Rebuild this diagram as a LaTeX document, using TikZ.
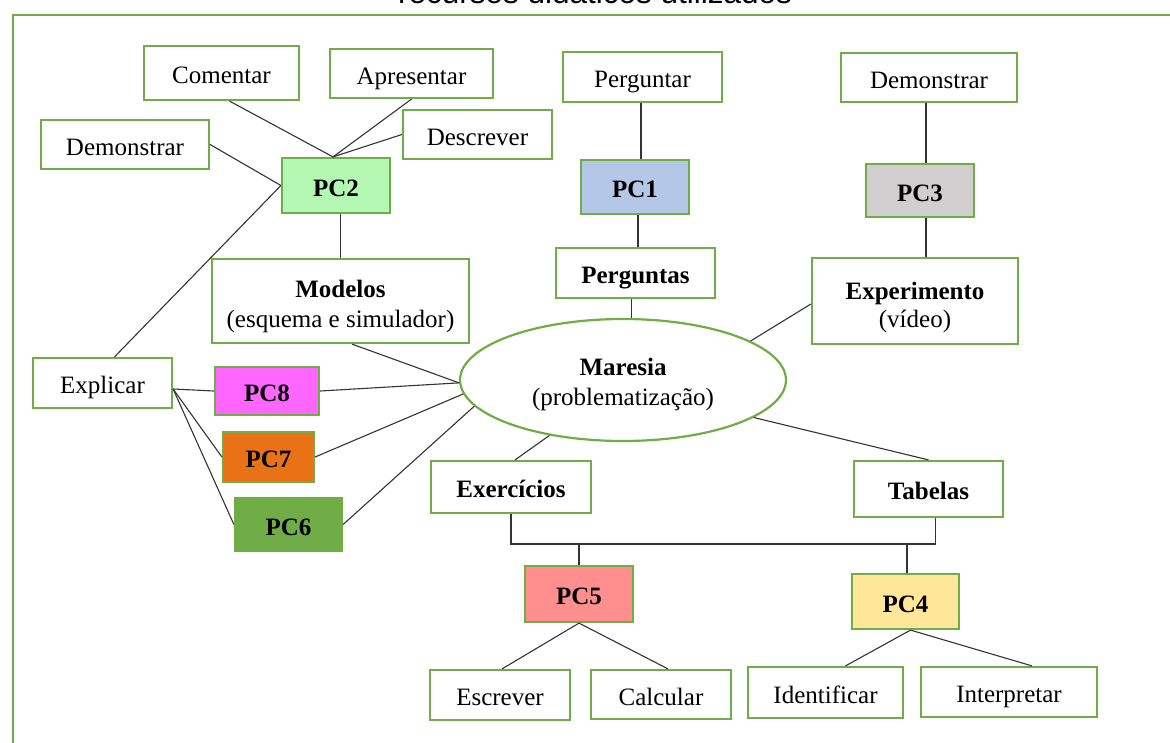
\documentclass[tikz,border=0pt]{standalone}
\usepackage{fontspec}
\setmainfont{Liberation Serif}
\newfontfamily\titlefont{Liberation Sans}
\usetikzlibrary{shapes.geometric,calc}
\definecolor{gborder}{HTML}{70AD47}
\definecolor{cpctwo}{HTML}{B3F7B3}
\definecolor{cpcone}{HTML}{B4C7E7}
\definecolor{cpcthree}{HTML}{D0CECE}
\definecolor{cpcfour}{HTML}{FFE699}
\definecolor{cpcfive}{HTML}{FF8F8F}
\definecolor{cpcsix}{HTML}{70AD47}
\definecolor{cpcseven}{HTML}{E97116}
\definecolor{cpceight}{HTML}{FF66FF}
\definecolor{lineclr}{HTML}{333333}
\begin{document}
\begin{tikzpicture}[x=1pt,y=-1pt,
  mbox/.style={draw=gborder, line width=2.2pt, fill=white, inner sep=0pt, align=center,
    font=\fontsize{25}{30}\selectfont},
  box/.style={mbox, text height=22pt, text depth=1pt},
  bbox/.style={box, font=\fontsize{25}{30}\selectfont\bfseries},
  conn/.style={draw=lineclr, line width=1.1pt}]
\useasboundingbox (0,0) rectangle (1170,742);
% outer frame and clipped title
\draw[draw=gborder, line width=2.5pt] (13,760) -- (13,15) -- (1190,15);
\node[font=\titlefont\fontsize{31.5}{36}\selectfont, anchor=base, inner sep=0pt] (title) at (595,3) {recursos didáticos utilizados};
\coordinate (brk) at (0,544);
% nodes
\node[box, minimum width=155pt, minimum height=54pt] (com) at (221.5,73) {Comentar};
\node[box, minimum width=163pt, minimum height=49pt] (apr) at (411.5,73.5) {Apresentar};
\node[box, minimum width=149pt, minimum height=49pt] (des) at (477.5,134.5) {Descrever};
\node[box, minimum width=168pt, minimum height=49pt] (demL) at (125,144.5) {Demonstrar};
\node[bbox, fill=cpctwo, minimum width=108pt, minimum height=55pt] (pc2) at (336,185.5) {PC2};
\node[mbox, minimum width=257pt, minimum height=84pt] (mod) at (340.5,301) {\rule{0pt}{29pt}\textbf{Modelos}\\(esquema e simulador)};
\node[box, minimum width=139pt, minimum height=50pt] (expl) at (102.5,383) {Explicar};
\node[bbox, fill=cpceight, minimum width=104pt, minimum height=48pt] (pc8) at (267,391) {PC8};
\node[bbox, fill=cpcseven, minimum width=91pt, minimum height=50pt] (pc7) at (268.5,457) {PC7};
\node[bbox, fill=cpcsix, minimum width=107pt, minimum height=53pt] (pc6) at (288.5,524.5) {PC6};
\node[box, minimum width=159pt, minimum height=50pt] (perg) at (642.5,77) {Perguntar};
\node[bbox, fill=cpcone, minimum width=108pt, minimum height=54pt] (pc1) at (635,187) {PC1};
\node[bbox, minimum width=159pt, minimum height=50pt] (pergs) at (635.5,273) {Perguntas};
\node[box, minimum width=176pt, minimum height=49pt] (demR) at (929,77.5) {Demonstrar};
\node[bbox, fill=cpcthree, minimum width=108pt, minimum height=53pt] (pc3) at (920,190.5) {PC3};
\node[mbox, minimum width=206pt, minimum height=86pt] (exp) at (915,301) {\rule{0pt}{31pt}\textbf{Experimento}\\[-2pt](vídeo)};
\node[mbox, ellipse, minimum width=326pt, minimum height=122pt] (mar) at (623,380) {\rule{0pt}{26pt}\textbf{Maresia}\\(problematização)};
\node[bbox, minimum width=160pt, minimum height=52pt] (exer) at (511,487) {Exercícios};
\node[bbox, minimum width=149pt, minimum height=56pt] (tab) at (928.5,489) {Tabelas};
\node[bbox, fill=cpcfive, minimum width=108pt, minimum height=56pt] (pc5) at (579,594) {PC5};
\node[bbox, fill=cpcfour, minimum width=107pt, minimum height=55pt] (pc4) at (905.5,601.5) {PC4};
\node[box, minimum width=140pt, minimum height=50pt] (esc) at (500,695) {Escrever};
\node[box, minimum width=140pt, minimum height=49pt] (cal) at (661,694.5) {Calcular};
\node[box, minimum width=155pt, minimum height=51pt] (ide) at (825.5,692.5) {Identificar};
\node[box, minimum width=176pt, minimum height=50pt] (int) at (1009,692) {Interpretar};
% connectors
\draw[conn] ([xshift=8pt]com.south) -- ([xshift=-3pt]pc2.north);
\draw[conn] (apr.south) -- ([xshift=-3pt]pc2.north);
\draw[conn] (des.west) -- ([xshift=-3pt]pc2.north);
\draw[conn] (demL.east) -- (pc2.west);
\draw[conn] ([xshift=12pt]expl.north) -- (pc2.west);
\draw[conn] (pc2.south -| mod.north) -- (mod.north);
\draw[conn] ([xshift=11.5pt]mod.south) -- (mar.181);
\draw[conn] (pc8.east) -- (mar.181);
\draw[conn] (pc7.east) -- (mar.185);
\draw[conn] (pc6.east) -- (mar.190);
\draw[conn] ([yshift=-6pt]expl.east) -- (pc8.west);
\draw[conn] ([yshift=-6pt]expl.east) -- (pc7.west);
\draw[conn] ([yshift=-6pt]expl.east) -- (pc6.west);
\draw[conn] ([xshift=-1.5pt]perg.south) -- ([xshift=-1.5pt]perg.south |- pc1.north);
\draw[conn] ([xshift=3pt]pc1.south) -- ([xshift=3pt]pc1.south |- pergs.north);
\draw[conn] (mar.82) -- (mar.82 |- pergs.south);
\draw[conn] ([xshift=-3pt]demR.south) -- ([xshift=-3pt]demR.south |- pc3.north);
\draw[conn] ([xshift=6pt]pc3.south) -- ([xshift=6pt]pc3.south |- exp.north);
\draw[conn] ([yshift=-3pt]exp.west) -- (mar.17);
\draw[conn] (mar.217) -- ([xshift=4pt]exer.north);
\draw[conn] (mar.344) -- (tab.north);
\draw[conn] (exer.south) -- (exer.south |- brk) -| ([xshift=7pt]tab.south);
\draw[conn] (pc5.north) -- (pc5.north |- brk);
\draw[conn] ([xshift=1.5pt]pc4.north) -- ([xshift=1.5pt]pc4.north |- brk);
\draw[conn] (pc5.south) -- ([xshift=2pt]esc.north);
\draw[conn] (pc5.south) -- ([xshift=7pt]cal.north);
\draw[conn] ([xshift=5pt]pc4.south) -- ([xshift=20pt]ide.north);
\draw[conn] ([xshift=5pt]pc4.south) -- ([xshift=23pt]int.north);
\end{tikzpicture}
\end{document}
